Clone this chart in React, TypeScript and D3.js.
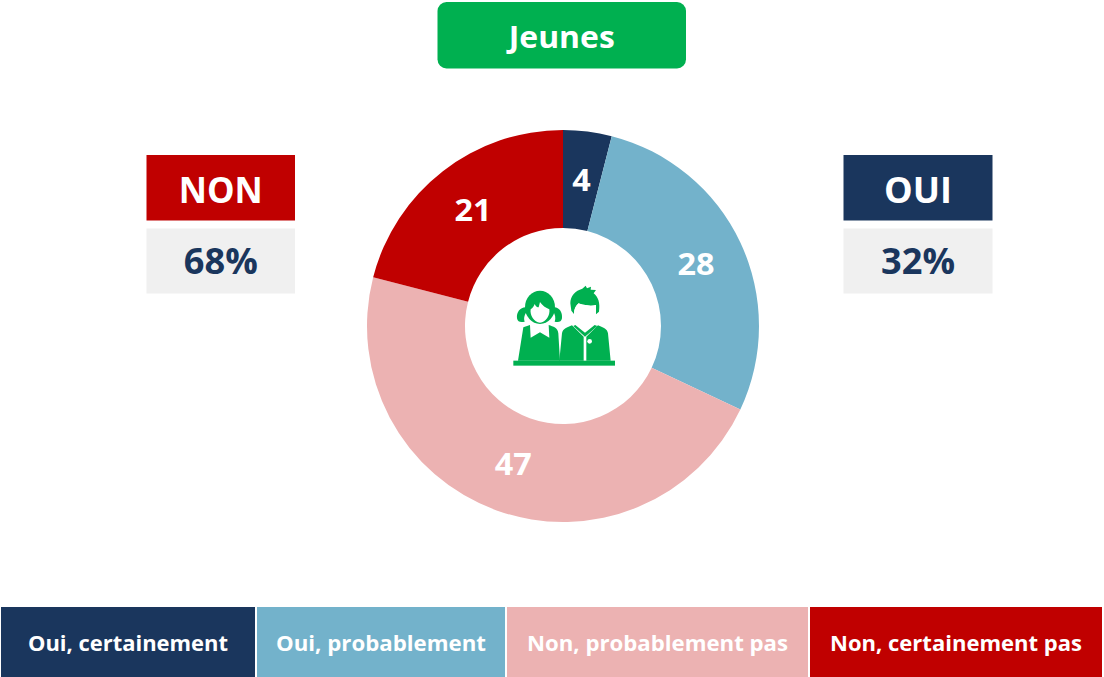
import React from "react";
import * as d3 from "d3";

const categories = ["Oui, certainement", "Oui, probablement", "Non, probablement pas", "Non, certainement pas"];
const values = [4, 28, 47, 21];
const colors = ["#1A365D", "#73B2CB", "#ECB2B2", "#C00000"];
const legendEdges = [1, 255, 257, 505, 507, 808, 810, 1102];
const FONT = "'Open Sans', sans-serif";

const GREEN = "#00B050";

function Icon() {
  return (
    <g transform="translate(490,270) scale(0.3333)" fill={GREEN}>
      {/* girl */}
      <path d="M107 112 C90 112 79 127 81 145 C83 156 92 158 104 155 C100 145 104 132 112 124 Z" />
      <path d="M193 112 C208 112 218 127 216 145 C214 156 205 158 194 155 C198 145 196 132 188 124 Z" />
      <ellipse cx="150" cy="112" rx="45" ry="50" />
      <path d="M122 118 C128 114 132 108 134 102 C138 110 142 112 146 112 L150 96 C156 106 168 114 178 118 C181 135 168 158 150 158 C132 158 119 135 122 118 Z" fill="#fff" />
      <path d="M100 172 L120 165 L122 203 L150 187 L178 203 L176 165 C190 170 203 172 205 190 L210 272 L84 272 Z" />
      {/* boy */}
      <path d="M241 100 C241 78 256 62 277 56 L287 47 L291 55 L303 50 L302 59 L318 60 L311 70 C325 82 331 98 327 125 L318 133 L318 105 C300 110 275 104 266 100 C258 106 252 118 252 132 L244 122 Z" />
      <path d="M252 132 C252 115 258 108 266 100 C275 104 300 110 318 105 C320 135 305 160 285 160 C265 160 252 150 252 132 Z" fill="#fff" />
      <path d="M246 166 L281 200 L281 272 L208 272 L216 190 C218 176 232 172 246 166 Z" />
      <path d="M324 166 L289 200 L289 272 L362 272 L354 190 C352 176 338 172 324 166 Z" />
      <path d="M256 165 L285 188 L314 165 L322 168 L285 200 L250 168 Z" />
      <circle cx="299" cy="214" r="7" fill="#fff" />
      <rect x="70" y="272" width="305" height="15" />
    </g>
  );
}

export default function App() {
  const cx = 563, cy = 326, outer = 196, inner = 98, labelRadius = 147;
  const pie = d3.pie<number>().sort(null).startAngle(0).endAngle(2 * Math.PI);
  const arcs = pie(values);
  const arc = d3.arc<d3.PieArcDatum<number>>().innerRadius(inner).outerRadius(outer);

  const box = (
    bx: number, by: number, w: number, h: number, fill: string,
    text: string, tfill: string, fs: number, rx = 0, len?: number, dy = 2
  ) => (
    <g key={text}>
      <rect x={bx} y={by} width={w} height={h} rx={rx} fill={fill} />
      <text x={bx + w / 2} y={by + h / 2 + dy} dy="0.36em" textAnchor="middle" fill={tfill}
        fontFamily={FONT} fontWeight={700} fontSize={fs}
        textLength={len} lengthAdjust="spacingAndGlyphs">{text}</text>
    </g>
  );

  return (
    <svg width={1104} height={677} viewBox="0 0 1104 677"
      style={{ position: "absolute", left: 0, top: 0, background: "#fff" }}>
      {box(437.5, 2, 248.5, 66.5, GREEN, "Jeunes", "#fff", 30, 9, 106, 1.5)}
      {box(146.5, 155, 148.5, 65.5, "#C00000", "NON", "#fff", 36, 0, 84, 2.5)}
      {box(146.5, 228.5, 148.5, 65, "#F0F0F0", "68%", "#1A365D", 36, 0, 74, 0)}
      {box(843.5, 155, 149, 65.5, "#1A365D", "OUI", "#fff", 36, 0, 68, 2.5)}
      {box(843.5, 228.5, 149, 65, "#F0F0F0", "32%", "#1A365D", 36, 0, 74, 0)}

      <g transform={`translate(${cx},${cy})`}>
        {arcs.map((a, i) => <path key={i} d={arc(a) as string} fill={colors[i]} />)}
        {arcs.map((a, i) => {
          const m = (a.startAngle + a.endAngle) / 2;
          return (
            <text key={i} x={Math.sin(m) * labelRadius} y={-Math.cos(m) * labelRadius} dy="0.36em" textAnchor="middle"
              fill="#fff" fontFamily={FONT} fontWeight={700} fontSize={31}
              textLength={String(values[i]).length * 18.5} lengthAdjust="spacingAndGlyphs">{values[i]}</text>
          );
        })}
      </g>

      <Icon />

      {categories.map((c, i) => {
        const x0 = legendEdges[i * 2], x1 = legendEdges[i * 2 + 1];
        const lens = [200, 210, 261, 252];
        return box(x0, 607, x1 - x0, 70, colors[i], c, "#fff", 22, 0, lens[i], 1.5);
      })}
    </svg>
  );
}
